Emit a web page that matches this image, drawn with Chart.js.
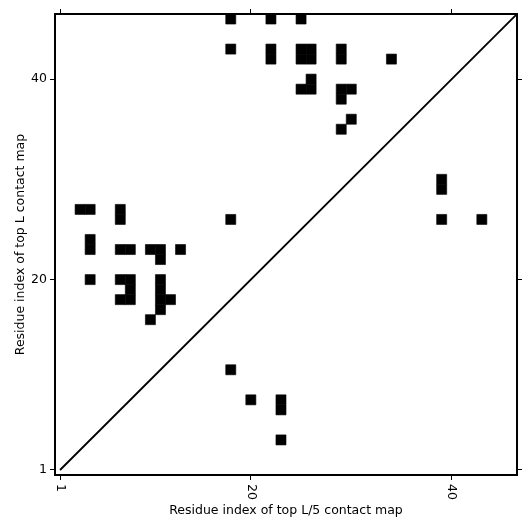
<!DOCTYPE html>
<html>
<head>
<meta charset="utf-8">
<script src="https://cdn.jsdelivr.net/npm/chart.js@4"></script>
<style>
  body { margin: 0; background: #fff; }
  #wrap { width: 531px; height: 531px; }
</style>
</head>
<body>
<div id="wrap"><canvas id="contactChart" width="531" height="531"></canvas></div>
<script>
// residue count and tick labels
const seqLength = 46;
const xTicks = [1, 20, 40];
const yTicks = [1, 20, 40];

// top L contacts (upper triangle)
const topLX = [18, 22, 25, 18, 22, 22, 25, 26, 25, 26, 29, 29, 34,
               26, 25, 26, 29, 30, 29, 30, 29,
               3, 4, 7, 7, 4, 4, 7, 8, 10, 11, 11, 13,
               4, 7, 8, 8, 7, 8, 11, 11, 11, 11, 12, 10, 18];
const topLY = [46, 46, 46, 43, 43, 42, 43, 43, 42, 42, 43, 42, 42,
               40, 39, 39, 39, 39, 38, 36, 35,
               27, 27, 27, 26, 24, 23, 23, 23, 23, 23, 22, 23,
               20, 20, 20, 19, 18, 18, 20, 19, 18, 17, 18, 16, 26];

// top L/5 contacts (lower triangle)
const topL5X = [18, 20, 23, 23, 23, 39, 43, 39, 39];
const topL5Y = [11, 8, 8, 7, 4, 26, 26, 30, 29];

const toPoints = (xs, ys) => xs.map((x, i) => ({ x: x, y: ys[i] }));

// one cell = one residue unit
const cellRadius = (ctx) => {
    const s = ctx.chart.scales.x;
    return Math.abs(s.getPixelForValue(1) - s.getPixelForValue(0)) / 2 / Math.SQRT1_2;
};

const fontFamily = 'DejaVu Sans';
const lo = 0.5, hi = seqLength + 0.5;

// rotated x tick labels (clockwise, like the original)
const xLabelPlugin = {
    id: 'xLabels',
    afterDraw(chart) {
        const s = chart.scales.x;
        const ctx = chart.ctx;
        ctx.save();
        ctx.font = '12.5px ' + fontFamily;
        ctx.fillStyle = '#000';
        xTicks.forEach(v => {
            ctx.save();
            ctx.translate(s.getPixelForValue(v), s.top + 9);
            ctx.rotate(Math.PI / 2);
            ctx.textAlign = 'left';
            ctx.textBaseline = 'middle';
            ctx.fillText(String(v), 0, 0);
            ctx.restore();
        });
        ctx.restore();
    }
};

const tickGrid = { drawOnChartArea: false, drawTicks: true, tickLength: 5, color: '#000', lineWidth: 1 };
const axisBorder = { display: true, color: '#000', width: 2 };

new Chart(document.getElementById('contactChart'), {
    type: 'scatter',
    data: {
        datasets: [
            {
                label: 'Top L',
                data: toPoints(topLX, topLY),
                pointStyle: 'rect',
                pointRadius: cellRadius,
                pointBorderWidth: 0.6,
                borderColor: '#000',
                backgroundColor: '#000'
            },
            {
                label: 'Top L/5',
                data: toPoints(topL5X, topL5Y),
                pointStyle: 'rect',
                pointRadius: cellRadius,
                pointBorderWidth: 0.6,
                borderColor: '#000',
                backgroundColor: '#000'
            },
            {
                label: 'Diagonal',
                data: [{ x: 1, y: 1 }, { x: hi, y: hi }],
                showLine: true,
                borderColor: '#000',
                borderWidth: 1.8,
                pointRadius: 0
            }
        ]
    },
    plugins: [xLabelPlugin],
    options: {
        responsive: false,
        animation: false,
        events: [],
        layout: { padding: 0 },
        plugins: {
            legend: { display: false },
            tooltip: { enabled: false }
        },
        scales: {
            x: {
                type: 'linear',
                position: 'bottom',
                min: lo,
                max: hi,
                afterBuildTicks: (s) => { s.ticks = xTicks.map(v => ({ value: v })); },
                afterFit: (s) => { s.height = 56; },
                ticks: { display: false },
                grid: tickGrid,
                border: axisBorder,
                title: {
                    display: true,
                    text: 'Residue index of top L/5 contact map',
                    color: '#000',
                    font: { family: fontFamily, size: 12.5 },
                    padding: { top: 0, bottom: 13 }
                }
            },
            y: {
                type: 'linear',
                position: 'left',
                min: lo,
                max: hi,
                afterBuildTicks: (s) => { s.ticks = yTicks.map(v => ({ value: v })); },
                afterFit: (s) => { s.width = 55; },
                ticks: {
                    color: '#000',
                    padding: 3,
                    font: { family: fontFamily, size: 12.5 }
                },
                grid: tickGrid,
                border: axisBorder,
                title: {
                    display: true,
                    text: 'Residue index of top L contact map',
                    color: '#000',
                    font: { family: fontFamily, size: 12.5 },
                    padding: { top: 13, bottom: 0 }
                }
            },
            x2: {
                type: 'linear',
                position: 'top',
                min: lo,
                max: hi,
                afterBuildTicks: (s) => { s.ticks = xTicks.map(v => ({ value: v })); },
                afterFit: (s) => { s.height = 14; },
                ticks: { display: false },
                grid: tickGrid,
                border: axisBorder
            },
            y2: {
                type: 'linear',
                position: 'right',
                min: lo,
                max: hi,
                afterBuildTicks: (s) => { s.ticks = yTicks.map(v => ({ value: v })); },
                afterFit: (s) => { s.width = 14; },
                ticks: { display: false },
                grid: tickGrid,
                border: axisBorder
            }
        }
    }
});
</script>
</body>
</html>
